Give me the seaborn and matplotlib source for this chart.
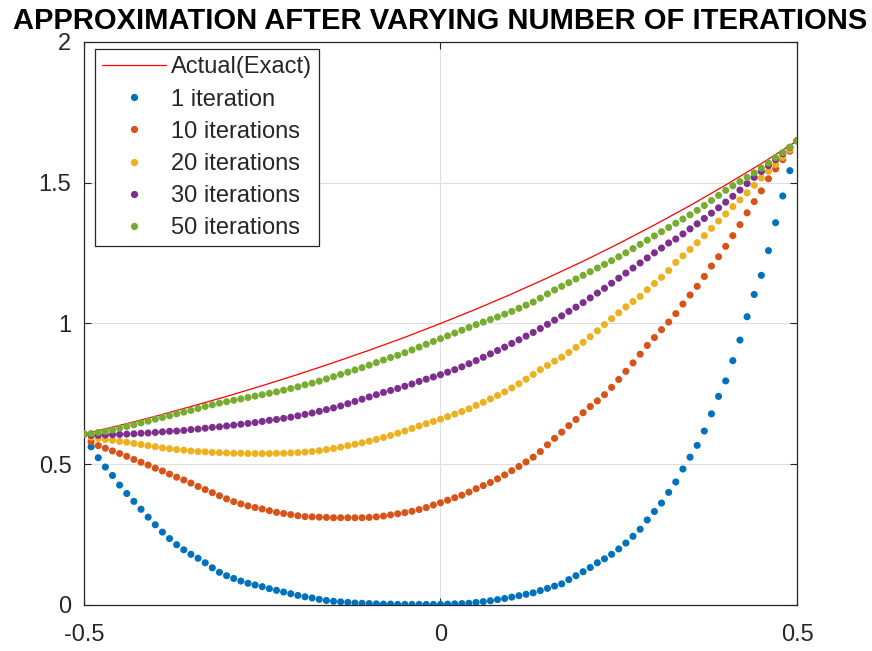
import numpy as np
import pandas as pd
import matplotlib
matplotlib.use("Agg")
import matplotlib.pyplot as plt
from matplotlib.lines import Line2D
import seaborn as sns

# ---------------- data ----------------
exact_x = [-0.5, -0.45, -0.4, -0.35, -0.3, -0.25, -0.2, -0.15, -0.1, -0.05, 0.0,
           0.05, 0.1, 0.15, 0.2, 0.25, 0.3, 0.35, 0.4, 0.45, 0.5]
exact_y = [0.607, 0.638, 0.670, 0.705, 0.741, 0.779, 0.819, 0.861, 0.905, 0.951, 1.0,
           1.051, 1.105, 1.162, 1.221, 1.284, 1.350, 1.419, 1.492, 1.568, 1.649]

# sample positions along x at which every approximation curve was read
x_samples = [-0.50, -0.49, -0.48, -0.47, -0.46, -0.45, -0.44, -0.43, -0.42, -0.41,
             -0.40, -0.39, -0.38, -0.37, -0.36, -0.35, -0.34, -0.33, -0.32, -0.31,
             -0.30, -0.29, -0.28, -0.27, -0.26, -0.25, -0.24, -0.23, -0.22, -0.21,
             -0.20, -0.19, -0.18, -0.17, -0.16, -0.15, -0.14, -0.13, -0.12, -0.11,
             -0.10, -0.09, -0.08, -0.07, -0.06, -0.05, -0.04, -0.03, -0.02, -0.01,
             0.00, 0.01, 0.02, 0.03, 0.04, 0.05, 0.06, 0.07, 0.08, 0.09,
             0.10, 0.11, 0.12, 0.13, 0.14, 0.15, 0.16, 0.17, 0.18, 0.19,
             0.20, 0.21, 0.22, 0.23, 0.24, 0.25, 0.26, 0.27, 0.28, 0.29,
             0.30, 0.31, 0.32, 0.33, 0.34, 0.35, 0.36, 0.37, 0.38, 0.39,
             0.40, 0.41, 0.42, 0.43, 0.44, 0.45, 0.46, 0.47, 0.48, 0.49, 0.50]

it1_y = [0.607, 0.562, 0.523, 0.490, 0.460, 0.426, 0.396, 0.368, 0.340, 0.312,
         0.285, 0.259, 0.236, 0.214, 0.196, 0.180, 0.166, 0.150, 0.132, 0.116,
         0.104, 0.094, 0.085, 0.077, 0.071, 0.065, 0.058, 0.052, 0.046, 0.040,
         0.034, 0.029, 0.025, 0.020, 0.016, 0.013, 0.011, 0.009, 0.007, 0.006,
         0.005, 0.004, 0.003, 0.003, 0.002, 0.002, 0.002, 0.002, 0.002, 0.002,
         0.002, 0.003, 0.004, 0.005, 0.006, 0.009, 0.012, 0.015, 0.019, 0.023,
         0.028, 0.033, 0.038, 0.043, 0.051, 0.059, 0.067, 0.075, 0.090, 0.104,
         0.118, 0.133, 0.150, 0.164, 0.180, 0.199, 0.220, 0.244, 0.269, 0.302,
         0.332, 0.362, 0.400, 0.437, 0.483, 0.525, 0.567, 0.618, 0.679, 0.741,
         0.796, 0.868, 0.941, 1.024, 1.103, 1.171, 1.259, 1.358, 1.453, 1.543, 1.649]

it10_y = [0.607, 0.580, 0.566, 0.557, 0.547, 0.538, 0.528, 0.517, 0.507, 0.497,
          0.486, 0.476, 0.465, 0.454, 0.444, 0.433, 0.421, 0.410, 0.399, 0.388,
          0.377, 0.367, 0.359, 0.352, 0.346, 0.341, 0.335, 0.329, 0.325, 0.321,
          0.317, 0.314, 0.313, 0.312, 0.311, 0.310, 0.310, 0.310, 0.310, 0.310,
          0.311, 0.313, 0.316, 0.320, 0.324, 0.328, 0.333, 0.339, 0.346, 0.355,
          0.363, 0.372, 0.381, 0.390, 0.401, 0.413, 0.424, 0.435, 0.448, 0.462,
          0.477, 0.492, 0.508, 0.525, 0.545, 0.569, 0.592, 0.614, 0.637, 0.659,
          0.683, 0.705, 0.725, 0.747, 0.773, 0.801, 0.830, 0.860, 0.891, 0.922,
          0.950, 0.978, 1.005, 1.035, 1.069, 1.101, 1.132, 1.167, 1.204, 1.237,
          1.274, 1.312, 1.351, 1.393, 1.433, 1.471, 1.514, 1.549, 1.582, 1.612, 1.649]

it20_y = [0.607, 0.596, 0.592, 0.588, 0.585, 0.581, 0.578, 0.574, 0.570, 0.566,
          0.562, 0.558, 0.555, 0.552, 0.550, 0.547, 0.545, 0.544, 0.542, 0.541,
          0.540, 0.539, 0.539, 0.538, 0.538, 0.538, 0.538, 0.539, 0.539, 0.540,
          0.541, 0.543, 0.545, 0.548, 0.552, 0.556, 0.561, 0.566, 0.571, 0.576,
          0.582, 0.588, 0.595, 0.602, 0.610, 0.618, 0.627, 0.636, 0.644, 0.652,
          0.660, 0.669, 0.678, 0.687, 0.697, 0.709, 0.720, 0.732, 0.744, 0.757,
          0.771, 0.786, 0.802, 0.819, 0.836, 0.851, 0.866, 0.880, 0.897, 0.915,
          0.933, 0.953, 0.974, 0.996, 1.017, 1.038, 1.059, 1.078, 1.096, 1.120,
          1.142, 1.164, 1.188, 1.217, 1.240, 1.263, 1.287, 1.312, 1.338, 1.364,
          1.389, 1.415, 1.439, 1.464, 1.491, 1.517, 1.541, 1.565, 1.590, 1.617, 1.649]

it30_y = [0.607, 0.603, 0.603, 0.604, 0.605, 0.606, 0.607, 0.608, 0.610, 0.611,
          0.613, 0.615, 0.617, 0.618, 0.620, 0.623, 0.625, 0.628, 0.631, 0.633,
          0.636, 0.639, 0.642, 0.645, 0.648, 0.652, 0.656, 0.659, 0.663, 0.667,
          0.672, 0.677, 0.682, 0.688, 0.694, 0.700, 0.707, 0.715, 0.723, 0.731,
          0.739, 0.747, 0.755, 0.762, 0.769, 0.777, 0.785, 0.794, 0.802, 0.810,
          0.818, 0.827, 0.836, 0.846, 0.857, 0.868, 0.880, 0.892, 0.904, 0.916,
          0.929, 0.942, 0.955, 0.968, 0.982, 0.997, 1.012, 1.027, 1.043, 1.058,
          1.074, 1.091, 1.108, 1.125, 1.143, 1.161, 1.179, 1.197, 1.215, 1.233,
          1.251, 1.268, 1.286, 1.300, 1.318, 1.336, 1.354, 1.373, 1.392, 1.411,
          1.431, 1.452, 1.474, 1.497, 1.519, 1.540, 1.561, 1.582, 1.603, 1.626, 1.649]

it50_y = [0.607, 0.609, 0.613, 0.617, 0.622, 0.628, 0.634, 0.640, 0.647, 0.653,
          0.660, 0.666, 0.672, 0.679, 0.685, 0.691, 0.698, 0.705, 0.711, 0.717,
          0.722, 0.727, 0.732, 0.737, 0.742, 0.747, 0.752, 0.757, 0.763, 0.769,
          0.775, 0.782, 0.788, 0.795, 0.803, 0.811, 0.819, 0.827, 0.835, 0.843,
          0.852, 0.861, 0.870, 0.879, 0.887, 0.896, 0.906, 0.916, 0.926, 0.936,
          0.946, 0.956, 0.966, 0.976, 0.986, 0.996, 1.005, 1.014, 1.023, 1.033,
          1.043, 1.054, 1.065, 1.076, 1.090, 1.105, 1.119, 1.132, 1.145, 1.158,
          1.171, 1.184, 1.197, 1.210, 1.223, 1.237, 1.251, 1.266, 1.281, 1.296,
          1.311, 1.326, 1.341, 1.356, 1.371, 1.386, 1.402, 1.419, 1.437, 1.455,
          1.473, 1.489, 1.504, 1.519, 1.535, 1.552, 1.570, 1.589, 1.607, 1.626, 1.649]

labels = ["1 iteration", "10 iterations", "20 iterations", "30 iterations", "50 iterations"]
series_y = [it1_y, it10_y, it20_y, it30_y, it50_y]
colors = ["#0072BD", "#D95319", "#EDB120", "#7E2F8E", "#77AC30"]

frames = [pd.DataFrame({"x": x_samples, "y": sy, "series": lab})
          for sy, lab in zip(series_y, labels)]
df = pd.concat(frames, ignore_index=True)
exact_df = pd.DataFrame({"x": exact_x, "y": exact_y})

# ---------------- plot ----------------
sns.set_style("white")
plt.rcParams["font.family"] = ["Liberation Sans", "DejaVu Sans"]

fig = plt.figure(figsize=(8.72, 6.51), dpi=100)
ax = fig.add_axes([0.0963, 0.0707, 0.8177, 0.8648])

sns.lineplot(data=exact_df, x="x", y="y", color="#FF0000", linewidth=0.9, ax=ax,
             legend=False, zorder=2)
sns.scatterplot(data=df, x="x", y="y", hue="series", hue_order=labels,
                palette=colors, s=26, linewidth=0, ax=ax, legend=False, zorder=3)

ax.set_xlim(-0.5, 0.5)
ax.set_ylim(0, 2)
ax.set_xticks([-0.5, 0, 0.5])
ax.set_xticklabels(["-0.5", "0", "0.5"])
ax.set_yticks([0, 0.5, 1, 1.5, 2])
ax.set_yticklabels(["0", "0.5", "1", "1.5", "2"])
ax.set_xlabel("")
ax.set_ylabel("")
ax.grid(True, color="#DFDFDF", linewidth=0.8)
ax.set_axisbelow(True)
ax.tick_params(direction="in", length=5, width=0.8, colors="#262626",
               labelsize=17, top=True, right=True, bottom=True, left=True,
               labelcolor="#262626")
ax.tick_params(axis="x", pad=14)
ax.tick_params(axis="y", pad=9)
for sp in ax.spines.values():
    sp.set_visible(True)
    sp.set_color("#262626")
    sp.set_linewidth(0.9)

ax.set_title("APPROXIMATION AFTER VARYING NUMBER OF ITERATIONS",
             fontsize=21, fontweight="bold", color="black", pad=9)

handles = [Line2D([0], [0], color="#FF0000", linewidth=0.9)]
for c in colors:
    handles.append(Line2D([0], [0], linestyle="none", marker="o", markersize=4.2,
                          markerfacecolor=c, markeredgecolor=c))
leg = ax.legend(handles, ["Actual(Exact)"] + labels, loc="upper left",
                bbox_to_anchor=(0.0154, 0.987), borderaxespad=0,
                fontsize=17, frameon=True,
                fancybox=False, edgecolor="#262626", framealpha=1,
                handlelength=2.7, labelspacing=0.43, borderpad=0.3,
                handletextpad=0.2)
leg.get_frame().set_linewidth(0.9)
for t in leg.get_texts():
    t.set_color("#262626")

fig.savefig("out.png", dpi=100)
